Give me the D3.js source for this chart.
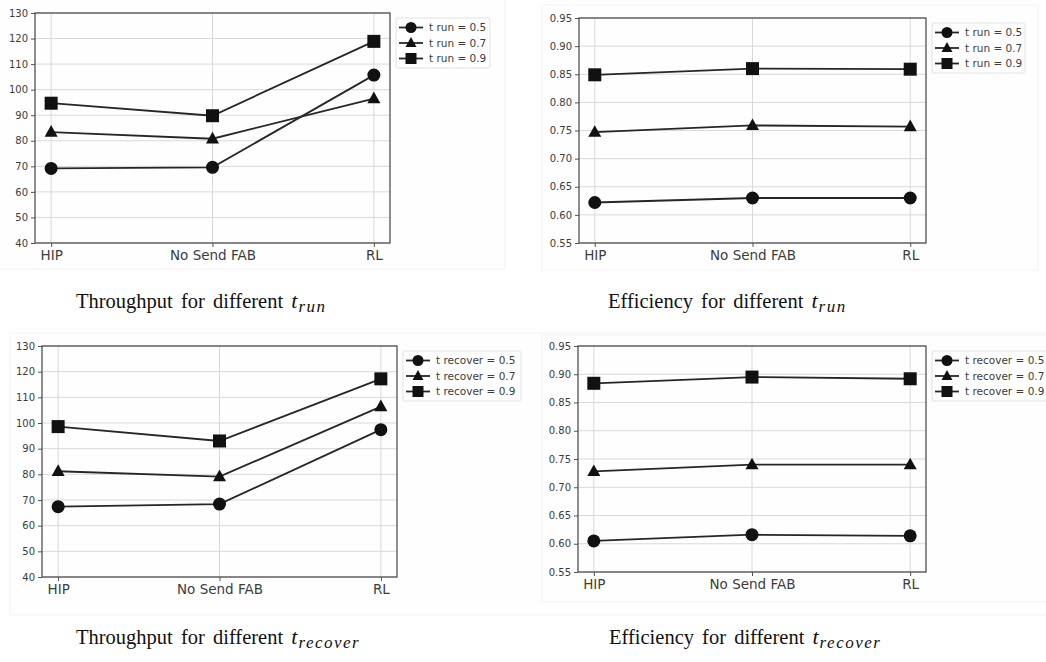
<!DOCTYPE html>
<html>
<head>
<meta charset="utf-8">
<script src="https://cdn.jsdelivr.net/npm/d3@7"></script>
<style>
  body { margin: 0; background: #fff; }
  svg { display: block; }
</style>
</head>
<body>
<svg id="fig" width="1046" height="662"></svg>
<script>
// Categories on the x axis (same for all four plots)
var categories = ["HIP", "No Send FAB", "RL"];

// Throughput for different t run
var tput_run_05 = [69.2, 69.6, 105.7];
var tput_run_07 = [83.4, 80.8, 96.5];
var tput_run_09 = [94.7, 89.8, 118.9];

// Efficiency for different t run
var eff_run_05 = [0.622, 0.630, 0.630];
var eff_run_07 = [0.747, 0.759, 0.757];
var eff_run_09 = [0.849, 0.860, 0.859];

// Throughput for different t recover
var tput_rec_05 = [67.4, 68.4, 97.4];
var tput_rec_07 = [81.2, 79.1, 106.4];
var tput_rec_09 = [98.6, 93.0, 117.2];

// Efficiency for different t recover
var eff_rec_05 = [0.605, 0.616, 0.614];
var eff_rec_07 = [0.728, 0.740, 0.740];
var eff_rec_09 = [0.884, 0.895, 0.892];

var tput_ticks = [40, 50, 60, 70, 80, 90, 100, 110, 120, 130];
var eff_ticks = [0.55, 0.60, 0.65, 0.70, 0.75, 0.80, 0.85, 0.90, 0.95];

var run_labels = ["t run = 0.5", "t run = 0.7", "t run = 0.9"];
var rec_labels = ["t recover = 0.5", "t recover = 0.7", "t recover = 0.9"];
var markers = ["circle", "triangle", "square"];

var svg = d3.select("#fig");

// one panel = faint figure box + axes + lines + legend + caption
function draw_panel(p) {
  // figure background box (barely visible in the scan)
  svg.append("rect")
    .attr("x", p.box[0]).attr("y", p.box[1])
    .attr("width", p.box[2]).attr("height", p.box[3])
    .attr("fill", "#fefefe").attr("stroke", "#f3f3f3");

  var g = svg.append("g");
  var x = d3.scalePoint().domain(categories).range([p.left, p.right]).padding(0.1);
  var y = d3.scaleLinear().domain([p.ticks[0], p.ticks[p.ticks.length - 1]]).range([p.bottom, p.top]);

  // grid
  g.selectAll(".hgrid").data(p.ticks).enter().append("line")
    .attr("x1", p.left).attr("x2", p.right)
    .attr("y1", function (d) { return y(d); }).attr("y2", function (d) { return y(d); })
    .attr("stroke", "#d9d9d9").attr("stroke-width", 1);
  g.selectAll(".vgrid").data(categories).enter().append("line")
    .attr("x1", function (d) { return x(d); }).attr("x2", function (d) { return x(d); })
    .attr("y1", p.top).attr("y2", p.bottom)
    .attr("stroke", "#d9d9d9").attr("stroke-width", 1);

  // axes
  var yAxis = d3.axisLeft(y).tickValues(p.ticks).tickSize(4).tickPadding(3).tickFormat(p.fmt);
  var ya = g.append("g").attr("transform", "translate(" + p.left + ",0)").call(yAxis);
  ya.select(".domain").remove();
  ya.selectAll("line").attr("stroke", "#555");
  ya.selectAll("text").attr("font-family", "DejaVu Sans").attr("font-size", 10).attr("fill", "#3c3c3c");

  var xAxis = d3.axisBottom(x).tickSize(4).tickPadding(3);
  var xa = g.append("g").attr("transform", "translate(0," + p.bottom + ")").call(xAxis);
  xa.select(".domain").remove();
  xa.selectAll("line").attr("stroke", "#555");
  xa.selectAll("text").attr("font-family", "DejaVu Sans").attr("font-size", 13.5).attr("fill", "#3c3c3c");

  g.append("rect")
    .attr("x", p.left).attr("y", p.top)
    .attr("width", p.right - p.left).attr("height", p.bottom - p.top)
    .attr("fill", "none").attr("stroke", "#444").attr("stroke-width", 1.2);

  // series
  var line = d3.line()
    .x(function (d, i) { return x(categories[i]); })
    .y(function (d) { return y(d); });

  p.series.forEach(function (vals, si) {
    g.append("path").datum(vals)
      .attr("d", line)
      .attr("fill", "none").attr("stroke", "#262626").attr("stroke-width", 1.8);
    vals.forEach(function (v, i) {
      add_marker(g, markers[si], x(categories[i]), y(v), 6.5);
    });
  });

  // legend
  var lx = p.right + 6, ly = p.top + 5;
  var lw = p.legendW, lh = 50;
  svg.append("rect")
    .attr("x", lx).attr("y", ly).attr("width", lw).attr("height", lh)
    .attr("rx", 2).attr("fill", "#fff").attr("stroke", "#e2e2e2");
  p.labels.forEach(function (lab, i) {
    var yy = ly + 9.5 + i * 15.5;
    svg.append("line")
      .attr("x1", lx + 3).attr("x2", lx + 27).attr("y1", yy).attr("y2", yy)
      .attr("stroke", "#262626").attr("stroke-width", 1.8);
    add_marker(svg, markers[i], lx + 15, yy, 5.5);
    svg.append("text")
      .attr("x", lx + 33).attr("y", yy).attr("dy", "0.35em")
      .attr("font-family", "DejaVu Sans").attr("font-size", 10.5).attr("fill", "#3c3c3c")
      .text(lab);
  });

  // caption
  var cap = svg.append("text")
    .attr("x", p.capX).attr("y", p.capY)
    .attr("font-family", "Liberation Serif").attr("font-size", 20.5).attr("fill", "#111")
    .attr("word-spacing", 3);
  cap.append("tspan").text(p.caption + " ");
  cap.append("tspan").attr("font-style", "italic").attr("font-size", 22).text("t");
  cap.append("tspan").attr("font-style", "italic").attr("font-size", 17)
    .attr("letter-spacing", 1.5).attr("dx", 1).attr("dy", 4).text(p.sub);
}

function add_marker(g, kind, cx, cy, r) {
  if (kind === "circle") {
    g.append("circle").attr("cx", cx).attr("cy", cy).attr("r", r).attr("fill", "#111");
  }
  else if (kind === "square") {
    g.append("rect").attr("x", cx - r).attr("y", cy - r)
      .attr("width", 2 * r).attr("height", 2 * r).attr("fill", "#111");
  }
  else {
    var h = r * 1.8;
    g.append("path")
      .attr("d", "M" + cx + "," + (cy - h * 0.6) + "L" + (cx + r) + "," + (cy + h * 0.4) + "L" + (cx - r) + "," + (cy + h * 0.4) + "Z")
      .attr("fill", "#111");
  }
}

var fmt_int = d3.format("d");
var fmt_eff = d3.format(".2f");

draw_panel({
  box: [-1, -1, 506, 270], left: 35, right: 390, top: 13, bottom: 243,
  ticks: tput_ticks, fmt: fmt_int, series: [tput_run_05, tput_run_07, tput_run_09],
  labels: run_labels, legendW: 94, caption: "Throughput for different", sub: "run", capX: 76, capY: 308
});
draw_panel({
  box: [542, 5, 496, 265], left: 579, right: 926, top: 18, bottom: 243,
  ticks: eff_ticks, fmt: fmt_eff, series: [eff_run_05, eff_run_07, eff_run_09],
  labels: run_labels, legendW: 93, caption: "Efficiency for different", sub: "run", capX: 608, capY: 308
});
draw_panel({
  box: [10, 333, 1046, 282], left: 42, right: 397, top: 346, bottom: 577,
  ticks: tput_ticks, fmt: fmt_int, series: [tput_rec_05, tput_rec_07, tput_rec_09],
  labels: rec_labels, legendW: 118, caption: "Throughput for different", sub: "recover", capX: 76, capY: 644
});
draw_panel({
  box: [542, 335, 520, 267], left: 578, right: 926, top: 346, bottom: 572,
  ticks: eff_ticks, fmt: fmt_eff, series: [eff_rec_05, eff_rec_07, eff_rec_09],
  labels: rec_labels, legendW: 118, caption: "Efficiency for different", sub: "recover", capX: 609, capY: 644
});
</script>
</body>
</html>
